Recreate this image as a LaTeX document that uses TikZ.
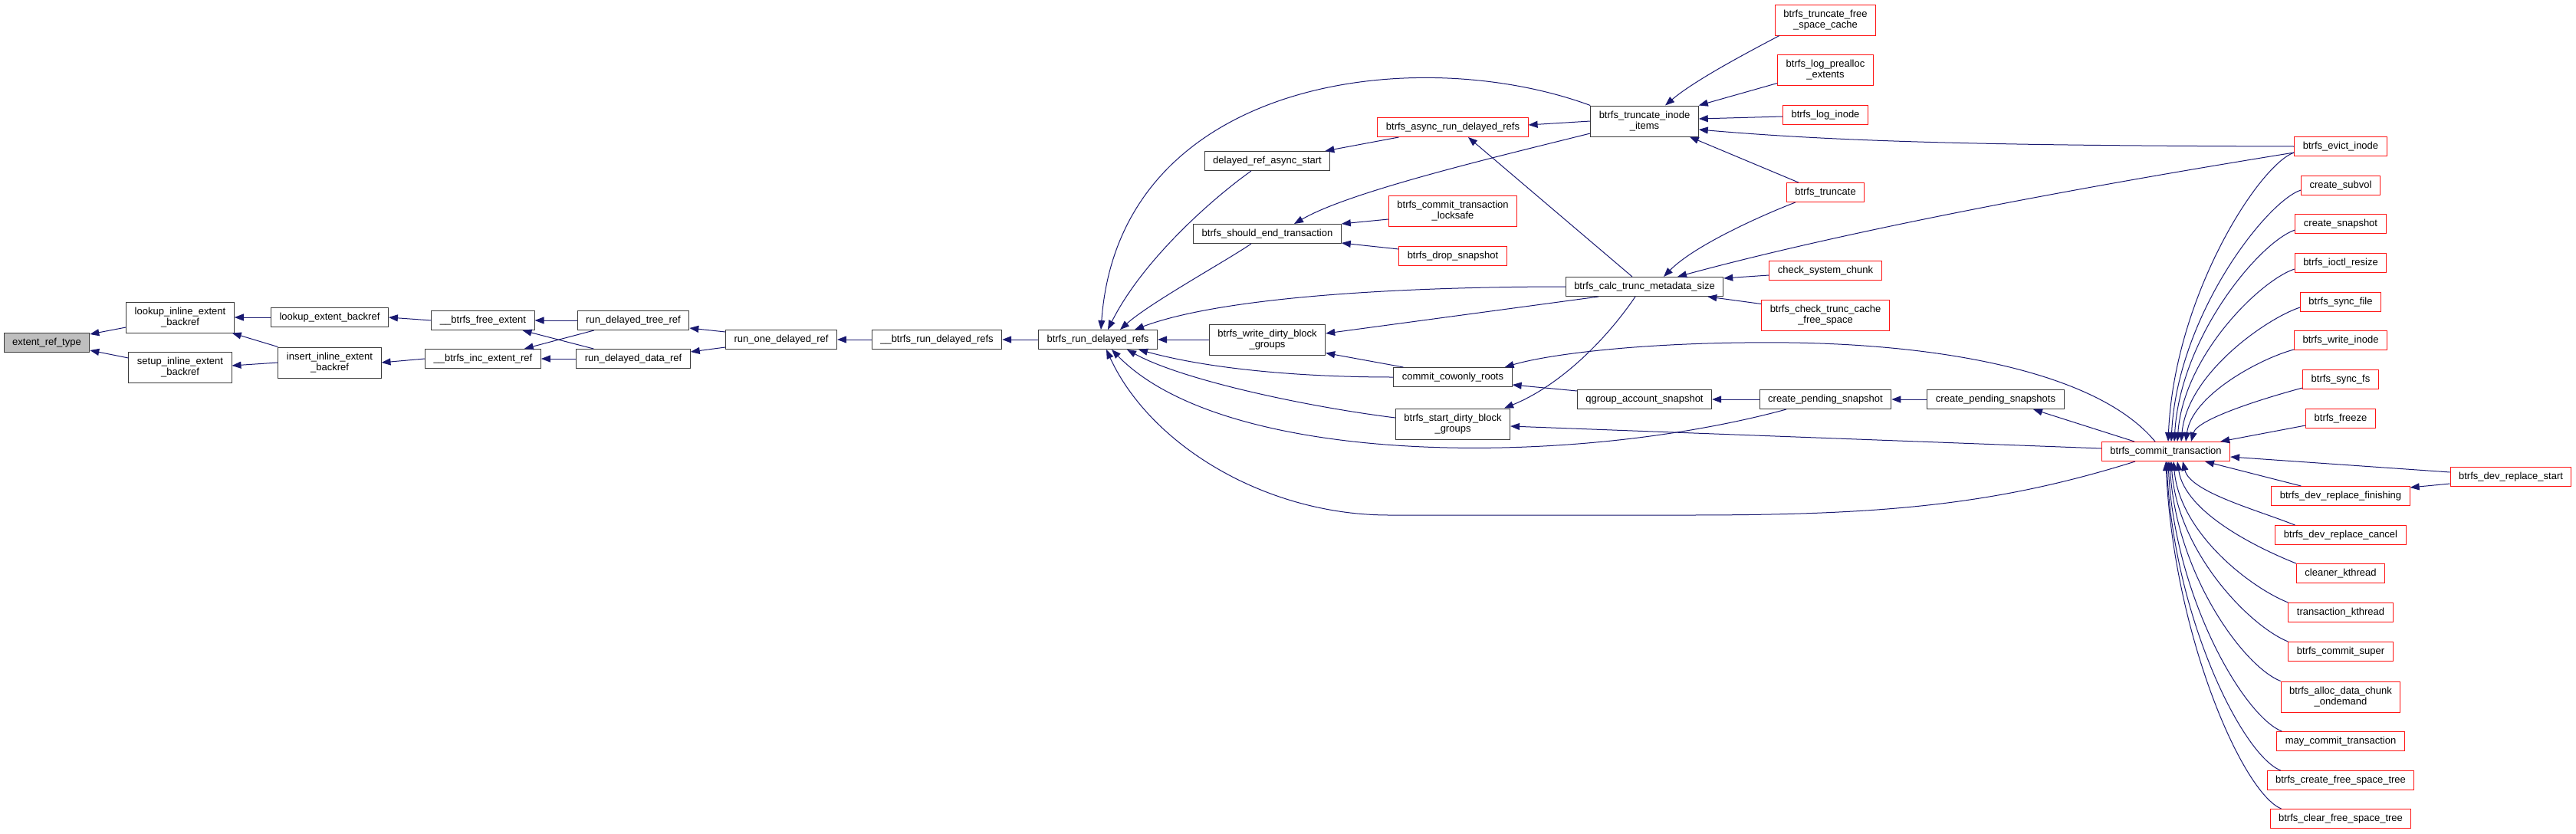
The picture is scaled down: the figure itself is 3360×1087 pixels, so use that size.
\documentclass[tikz,border=0pt]{standalone}
\usepackage{fontspec}
\setmainfont{Liberation Sans}
\usetikzlibrary{arrows.meta,calc}

\definecolor{edgeblue}{RGB}{25,25,112}
\definecolor{nodeline}{RGB}{60,60,60}
\definecolor{rootgray}{RGB}{191,191,191}
\definecolor{truncred}{RGB}{255,20,20}

\tikzset{
  fn/.style={draw=nodeline, fill=white, line width=1pt, minimum height=25pt,
    inner xsep=11pt, inner ysep=1pt, align=center, font=\fontsize{13}{14}\selectfont},
  two/.style={minimum height=40pt},
  trunc/.style={draw=truncred},
  root/.style={fill=rootgray},
  call/.style={draw=edgeblue, line width=1pt, -{Triangle[length=12pt,width=9pt]}},
}

\begin{document}
\begin{tikzpicture}[x=1pt, y=-1pt]
    \useasboundingbox (0,0) rectangle (3360,1087);

    % callee side
    \node[fn, root] (ert) at (61,447) {extent\_ref\_type};
    \node[fn, two] (lieb) at (235,414) {lookup\_inline\_extent\\\_backref};
    \node[fn, two] (sieb) at (235,479) {setup\_inline\_extent\\\_backref};
    \node[fn] (leb) at (430,414) {lookup\_extent\_backref};
    \node[fn, two] (iieb) at (430,473) {insert\_inline\_extent\\\_backref};
    \node[fn] (bfe) at (630,418) {\_\_btrfs\_free\_extent};
    \node[fn] (bier) at (630,468) {\_\_btrfs\_inc\_extent\_ref};
    \node[fn] (rdtr) at (826,418) {run\_delayed\_tree\_ref};
    \node[fn] (rddr) at (826,468) {run\_delayed\_data\_ref};
    \node[fn] (rodr) at (1019,443) {run\_one\_delayed\_ref};
    \node[fn] (bbrdr) at (1222,443) {\_\_btrfs\_run\_delayed\_refs};
    \node[fn] (brdr) at (1432,443) {btrfs\_run\_delayed\_refs};

    % middle columns
    \node[fn] (dras) at (1653,210) {delayed\_ref\_async\_start};
    \node[fn] (bset) at (1653,305) {btrfs\_should\_end\_transaction};
    \node[fn, two] (bwdbg) at (1653,443) {btrfs\_write\_dirty\_block\\\_groups};
    \node[fn, trunc] (barr) at (1895,166) {btrfs\_async\_run\_delayed\_refs};
    \node[fn, trunc, two] (bctl) at (1895,275) {btrfs\_commit\_transaction\\\_locksafe};
    \node[fn, trunc] (bds) at (1895,334) {btrfs\_drop\_snapshot};
    \node[fn] (ccr) at (1895,492) {commit\_cowonly\_roots};
    \node[fn, two] (bsdbg) at (1895,553) {btrfs\_start\_dirty\_block\\\_groups};
    \node[fn, two] (btii) at (2145,158) {btrfs\_truncate\_inode\\\_items};
    \node[fn] (bctms) at (2145,374) {btrfs\_calc\_trunc\_metadata\_size};
    \node[fn] (qas) at (2145,521) {qgroup\_account\_snapshot};
    \node[fn, trunc, two] (btfsc) at (2381,26) {btrfs\_truncate\_free\\\_space\_cache};
    \node[fn, trunc, two] (blpe) at (2381,91) {btrfs\_log\_prealloc\\\_extents};
    \node[fn, trunc] (bli) at (2381,150) {btrfs\_log\_inode};
    \node[fn, trunc] (btr) at (2381,251) {btrfs\_truncate};
    \node[fn, trunc] (csc) at (2381,353) {check\_system\_chunk};
    \node[fn, trunc, two] (bctcfs) at (2381,411) {btrfs\_check\_trunc\_cache\\\_free\_space};
    \node[fn] (cps) at (2381,521) {create\_pending\_snapshot};
    \node[fn] (cpss) at (2603,521) {create\_pending\_snapshots};
    \node[fn, trunc] (bct) at (2825,589) {btrfs\_commit\_transaction};

    % callers of btrfs_commit_transaction
    \node[fn, trunc] (bei) at (3053,191) {btrfs\_evict\_inode};
    \node[fn, trunc] (cs) at (3053,242) {create\_subvol};
    \node[fn, trunc] (csn) at (3053,292) {create\_snapshot};
    \node[fn, trunc] (bir) at (3053,343) {btrfs\_ioctl\_resize};
    \node[fn, trunc] (bsf) at (3053,394) {btrfs\_sync\_file};
    \node[fn, trunc] (bwi) at (3053,444) {btrfs\_write\_inode};
    \node[fn, trunc] (bsfs) at (3053,495) {btrfs\_sync\_fs};
    \node[fn, trunc] (bfz) at (3053,546) {btrfs\_freeze};
    \node[fn, trunc] (bdrf) at (3053,647) {btrfs\_dev\_replace\_finishing};
    \node[fn, trunc] (bdrc) at (3053,698) {btrfs\_dev\_replace\_cancel};
    \node[fn, trunc] (ckt) at (3053,748) {cleaner\_kthread};
    \node[fn, trunc] (tkt) at (3053,799) {transaction\_kthread};
    \node[fn, trunc] (bcs) at (3053,850) {btrfs\_commit\_super};
    \node[fn, trunc, two] (badco) at (3053,909) {btrfs\_alloc\_data\_chunk\\\_ondemand};
    \node[fn, trunc] (mct) at (3053,967) {may\_commit\_transaction};
    \node[fn, trunc] (bcfst) at (3053,1018) {btrfs\_create\_free\_space\_tree};
    \node[fn, trunc] (bclfst) at (3053,1068) {btrfs\_clear\_free\_space\_tree};
    \node[fn, trunc] (bdrs) at (3275,622) {btrfs\_dev\_replace\_start};

    % left chain
    \draw[call] ($(lieb.west)+(0,13)$) -- ($(ert.east)+(0,-11)$);
    \draw[call] ($(sieb.west)+(0,-12)$) -- ($(ert.east)+(0,10)$);
    \draw[call] (leb.west) -- (lieb.east);
    \draw[call] (iieb.north west) -- ($(lieb.south east)+(-3,0)$);
    \draw[call] (iieb.west) -- ($(sieb.east)+(0,-2)$);
    \draw[call] (bfe.west) -- (leb.east);
    \draw[call] (bier.west) -- (iieb.east);
    \draw[call] (rdtr.west) -- (bfe.east);
    \draw[call] ($(rddr.north west)+(23,0)$) -- ($(bfe.south east)+(-16,0)$);
    \draw[call] ($(rdtr.south west)+(22,0)$) -- ($(bier.north east)+(-22,0)$);
    \draw[call] (rddr.west) -- (bier.east);
    \draw[call] ($(rodr.west)+(0,-10)$) -- ($(rdtr.east)+(0,10)$);
    \draw[call] ($(rodr.west)+(0,10)$) -- ($(rddr.east)+(0,-9)$);
    \draw[call] (bbrdr.west) -- (rodr.east);
    \draw[call] (brdr.west) -- (bbrdr.east);
    \draw[call] (bwdbg.west) -- (brdr.east);

    % into btrfs_run_delayed_refs
    \draw[call] (btii.north west) .. controls (1850,55) and (1460,100) .. ($(brdr.north)+(4,0)$);
    \draw[call] ($(dras.south)+(-21,0)$) .. controls (1580,260) and (1490,340) .. ($(brdr.north)+(13,0)$);
    \draw[call] ($(bset.south)+(-21,0)$) .. controls (1600,340) and (1500,395) .. ($(brdr.north)+(29,0)$);
    \draw[call] (bctms.west) .. controls (1850,374) and (1600,385) .. ($(brdr.north)+(48,0)$);
    \draw[call] (ccr.west) .. controls (1700,492) and (1580,482) .. ($(brdr.south)+(53,0)$);
    \draw[call] ($(bsdbg.west)+(0,-8)$) .. controls (1700,530) and (1540,495) .. ($(brdr.south)+(38,0)$);
    \draw[call] ($(cps.south)+(-51,0)$) .. controls (2050,610) and (1600,610) .. ($(brdr.south)+(18,0)$);
    \draw[call] ($(bct.south)+(-40,0)$) .. controls (2600,660) and (2450,672) .. (2200,672)
        -- (1812,672) .. controls (1650,672) and (1500,580) .. ($(brdr.south)+(11,0)$);

    % middle edges
    \draw[call] (btii.west) -- ($(barr.east)+(0,-3)$);
    \draw[call] ($(barr.south west)+(28,0)$) -- ($(dras.north east)+(-7,0)$);
    \draw[call] ($(bctms.north)+(-16,0)$) -- ($(barr.south)+(20,0)$);
    \draw[call] ($(btii.west)+(0,16)$) .. controls (1950,205) and (1760,250) .. ($(bset.north)+(35,0)$);
    \draw[call] ($(bctl.west)+(0,11)$) -- ($(bset.east)+(0,-13)$);
    \draw[call] ($(bds.west)+(0,-9)$) -- ($(bset.east)+(0,12)$);
    \draw[call] ($(btfsc.south west)+(6,0)$) .. controls (2280,68) and (2210,105) .. ($(btii.north)+(27,0)$);
    \draw[call] ($(blpe.south west)+(0,-3)$) -- (btii.north east);
    \draw[call] ($(bli.west)+(0,2)$) -- ($(btii.east)+(0,-3)$);
    \draw[call] (bei.west) .. controls (2600,190) and (2400,185) .. ($(btii.east)+(0,11)$);
    \draw[call] ($(btr.north west)+(16,0)$) -- ($(btii.south east)+(-12,0)$);
    \draw[call] ($(btr.south west)+(12,0)$) .. controls (2300,280) and (2210,320) .. ($(bctms.north)+(25,0)$);
    \draw[call] ($(bei.west)+(0,8)$) .. controls (2800,230) and (2450,290) .. ($(bctms.north)+(43,0)$);
    \draw[call] ($(csc.west)+(0,6)$) -- ($(bctms.east)+(0,-11)$);
    \draw[call] ($(bctcfs.north west)+(0,6)$) -- ($(bctms.south east)+(-21,0)$);
    \draw[call] ($(bctms.south)+(-60,0)$) -- ($(bwdbg.east)+(0,-8)$);
    \draw[call] ($(ccr.north west)+(13,0)$) -- ($(bwdbg.south east)+(0,-3)$);
    \draw[call] ($(bctms.south)+(-12,0)$) .. controls (2090,450) and (2030,505) .. ($(bsdbg.north east)+(-8,0)$);
    \draw[call] ($(qas.west)+(0,-11)$) -- ($(ccr.south east)+(0,-3)$);
    \draw[call] ($(bct.north)+(-14,0)$) .. controls (2740,490) and (2550,450) .. (2334,447)
        .. controls (2150,445) and (2020,462) .. ($(ccr.north east)+(-10,0)$);
    \draw[call] ($(bct.west)+(0,-4)$) -- ($(bsdbg.east)+(0,3)$);
    \draw[call] (cps.west) -- (qas.east);
    \draw[call] (cpss.west) -- (cps.east);
    \draw[call] ($(bct.north)+(-41,0)$) -- ($(cpss.south)+(49,0)$);

    % right column into btrfs_commit_transaction
    \draw[call] ($(bei.west)+(0,8)$) .. controls +(-45,15) and +(8,-190) .. ($(bct.north)+(3,0)$);
    \draw[call] ($(cs.west)+(0,6)$) .. controls +(-45,15) and +(8,-164) .. ($(bct.north)+(7,0)$);
    \draw[call] ($(csn.west)+(0,8)$) .. controls +(-45,15) and +(8,-138) .. ($(bct.north)+(11,0)$);
    \draw[call] ($(bir.west)+(0,8)$) .. controls +(-45,15) and +(8,-112) .. ($(bct.north)+(15,0)$);
    \draw[call] ($(bsf.west)+(0,7)$) .. controls +(-45,15) and +(8,-88) .. ($(bct.north)+(20,0)$);
    \draw[call] ($(bwi.west)+(0,12)$) .. controls +(-45,12) and +(8,-60) .. ($(bct.north)+(26,0)$);
    \draw[call] ($(bsfs.west)+(0,11)$) .. controls +(-45,12) and +(8,-30) .. ($(bct.north)+(33,0)$);
    \draw[call] ($(bfz.west)+(0,9)$) -- ($(bct.north east)+(-13,0)$);
    \draw[call] ($(bdrs.west)+(0,-6)$) -- ($(bct.east)+(0,7)$);
    \draw[call] ($(bdrs.west)+(0,9)$) -- ($(bdrf.east)+(0,-11)$);
    \draw[call] ($(bdrf.north west)+(39,0)$) -- ($(bct.south)+(51,0)$);
    \draw[call] ($(bdrc.north west)+(26,0)$) .. controls +(-50,-20) and +(10,40) .. ($(bct.south)+(22,0)$);
    \draw[call] (ckt.north west) .. controls +(-50,-20) and +(10,67) .. ($(bct.south)+(15,0)$);
    \draw[call] (tkt.north west) .. controls +(-50,-20) and +(8,93) .. ($(bct.south)+(10,0)$);
    \draw[call] (bcs.north west) .. controls +(-50,-20) and +(8,118) .. ($(bct.south)+(7,0)$);
    \draw[call] (badco.north west) .. controls +(-50,-20) and +(8,144) .. ($(bct.south)+(5,0)$);
    \draw[call] ($(mct.north west)+(7,0)$) .. controls +(-50,-20) and +(8,176) .. ($(bct.south)+(3,0)$);
    \draw[call] ($(bcfst.north west)+(18,0)$) .. controls +(-50,-20) and +(9,202) .. ($(bct.south)+(1,0)$);
    \draw[call] ($(bclfst.north west)+(15,0)$) .. controls +(-50,-20) and +(10,227) .. (bct.south);
\end{tikzpicture}
\end{document}
